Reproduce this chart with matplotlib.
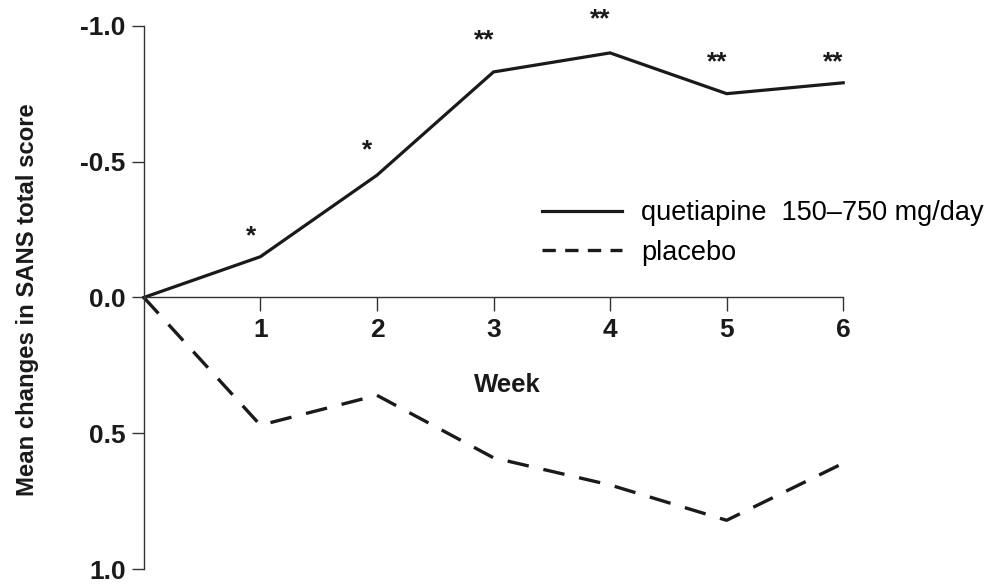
import matplotlib.pyplot as plt
from matplotlib.lines import Line2D

plt.rcParams['font.family'] = ['Liberation Sans', 'DejaVu Sans']

# data (y axis is inverted: improvement goes up)
weeks = [0, 1, 2, 3, 4, 5, 6]
quetiapine = [0.0, -0.15, -0.45, -0.83, -0.90, -0.75, -0.79]
placebo = [0.0, 0.47, 0.36, 0.59, 0.69, 0.82, 0.61]
stars = ['', '*', '*', '**', '**', '**', '**']
yticks = [-1.0, -0.5, 0.0, 0.5, 1.0]
xticks = [1, 2, 3, 4, 5, 6]

# how far (points) each star sits above its point
star_lift = [0, 15, 18, 22.5, 24, 22.5, 14.5]

fig = plt.figure(figsize=(9.92, 5.85), dpi=100)
ax = fig.add_axes([0.145, 0.027, 0.705, 0.929])

ax.plot(weeks, quetiapine, color='#1a1a1a', lw=2.3, solid_joinstyle='miter',
        clip_on=False)
ax.plot(weeks, placebo, color='#1a1a1a', lw=2.4, dashes=(6.5, 4.5),
        clip_on=False)

for x, y, s, d in zip(weeks, quetiapine, stars, star_lift):
    if s:
        ax.annotate(s, (x, y), xytext=(-7, d), textcoords='offset points',
                    ha='center', va='center', fontsize=19, fontweight='bold',
                    color='#1a1a1a')

ax.set_xlim(0, 6)
ax.set_ylim(1.0, -1.0)
ax.set_yticks(yticks)
ax.set_yticklabels([f'{v:.1f}' for v in yticks])
ax.set_xticks(xticks)

ax.spines['top'].set_visible(False)
ax.spines['right'].set_visible(False)
ax.spines['bottom'].set_position(('data', 0))
for sp in ['left', 'bottom']:
    ax.spines[sp].set_color('#333333')
    ax.spines[sp].set_linewidth(1.0)

ax.tick_params(axis='y', length=9, width=1, color='#333333', pad=4,
               labelsize=19)
ax.tick_params(axis='x', length=10, width=1, color='#333333', pad=5,
               labelsize=19)
for lab in ax.get_xticklabels() + ax.get_yticklabels():
    lab.set_fontweight('bold')
    lab.set_color('#1a1a1a')

fig.text(507 / 992, 1 - 385 / 585, 'Week', ha='center', va='center',
         fontsize=18.5, fontweight='bold', color='#1a1a1a')
fig.text(28 / 992, 1 - 300 / 585, 'Mean changes in SANS total score',
         rotation=90, ha='center', va='center', fontsize=17.2,
         fontweight='bold', color='#1a1a1a')

# legend uses a shorter dash so four dashes fit in the handle
handles = [Line2D([], [], color='#1a1a1a', lw=2.3),
           Line2D([], [], color='#1a1a1a', lw=2.4, dashes=(4, 2.8))]
ax.legend(handles, ['quetiapine  150\u2013750 mg/day', 'placebo'],
          loc='upper left', bbox_to_anchor=(542 / 992, 1 - 200 / 585),
          bbox_transform=fig.transFigure, frameon=False, fontsize=19.5,
          handlelength=2.95, handletextpad=0.7, labelspacing=0.51,
          borderpad=0, borderaxespad=0)

fig.savefig('out.png', dpi=100)
